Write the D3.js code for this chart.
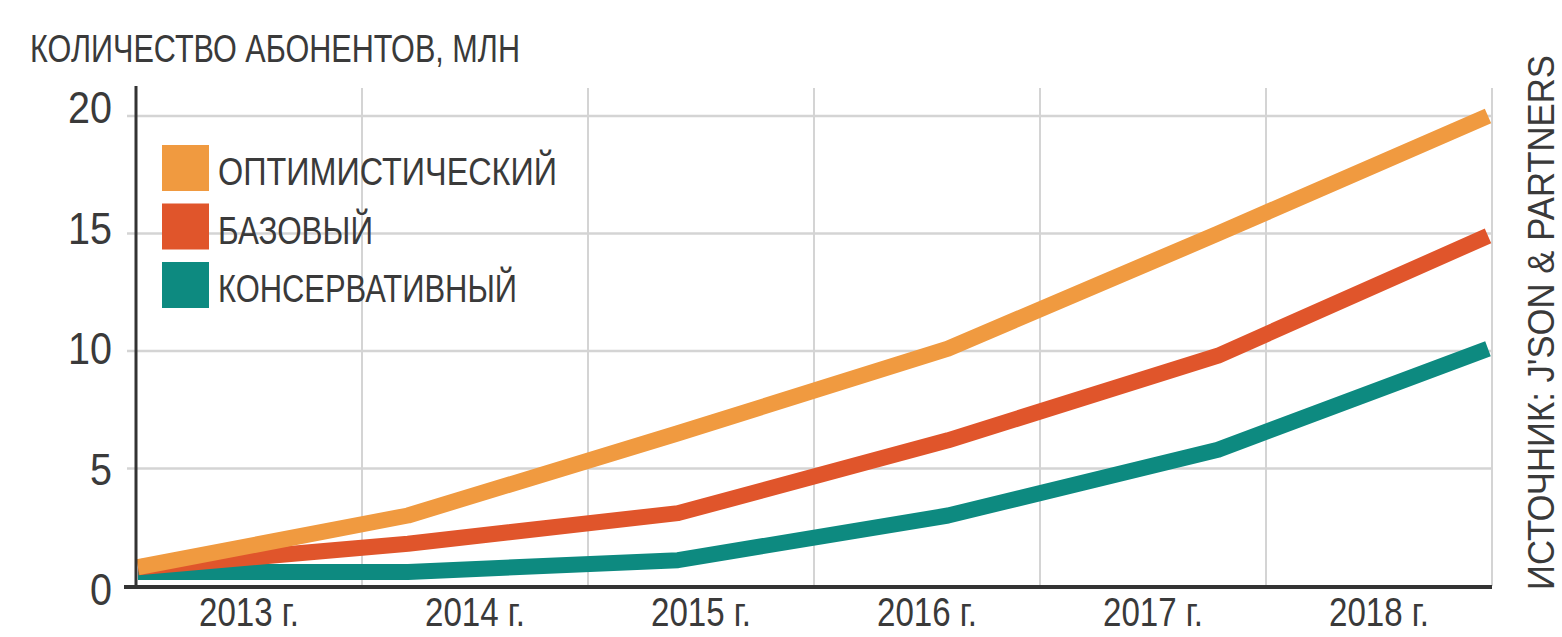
<!DOCTYPE html>
<html>
<head>
<meta charset="utf-8">
<script src="https://cdn.jsdelivr.net/npm/d3@7"></script>
<style>
  html, body { margin: 0; padding: 0; background: #fff; }
  svg { display: block; }
  text { font-family: "Liberation Sans Narrow", "Liberation Sans", Arial, sans-serif; fill: #3a3a3a; }
</style>
</head>
<body>
<script>
// ---- data ----
const years = ["2013 г.", "2014 г.", "2015 г.", "2016 г.", "2017 г.", "2018 г."];
const optimistic   = [0.8, 3.0, 6.5, 10.1, 15.0, 20.0];
const base         = [0.8, 1.8, 3.1, 6.2, 9.8, 14.9];
const conservative = [0.6, 0.6, 1.1, 3.0, 5.8, 10.1];
const yTicks = [0, 5, 10, 15, 20];
const seriesNames = ["ОПТИМИСТИЧЕСКИЙ", "БАЗОВЫЙ", "КОНСЕРВАТИВНЫЙ"];
const seriesColors = ["#F09A40", "#E0552B", "#0D8A80"];
const titleText = "КОЛИЧЕСТВО АБОНЕНТОВ, МЛН";
const sourceText = "ИСТОЧНИК: J'SON & PARTNERS";

(function () {
const W = 1562, H = 637;
const svg = d3.select("body").append("svg").attr("width", W).attr("height", H);

const pLeft = 136, pRight = 1492, pTop = 116, pBottom = 586;
const xBand = d3.scaleBand().domain(years).range([pLeft, pRight]).padding(0);
const xPt = d3.scalePoint().domain(d3.range(years.length)).range([pLeft + 2, pRight - 4]);
const y = d3.scaleLinear().domain([0, 20]).range([pBottom, pTop]);
const yLabel = d3.scaleLinear().domain([0, 20]).range([605, 123]);

// grid: horizontal
svg.append("g").selectAll("line").data(yTicks.filter(d => d > 0)).join("line")
  .attr("x1", pLeft - 9).attr("x2", pRight)
  .attr("y1", d => y(d)).attr("y2", d => y(d))
  .attr("stroke", "#d4d4d4").attr("stroke-width", 2.5);
// grid: vertical
const vlines = years.slice(1).map(d => xBand(d)).concat([pRight]);
svg.append("g").selectAll("line").data(vlines).join("line")
  .attr("x1", d => d).attr("x2", d => d)
  .attr("y1", 88).attr("y2", pBottom)
  .attr("stroke", "#d4d4d4").attr("stroke-width", 2);

// y axis labels
svg.append("g").selectAll("text").data(yTicks).join("text")
  .attr("x", 112).attr("y", d => yLabel(d))
  .attr("text-anchor", "end")
  .attr("font-size", 44)
  .attr("textLength", d => String(d).length * 22)
  .attr("lengthAdjust", "spacingAndGlyphs")
  .text(d => d);

// lines
const line = d3.line().x((d, i) => xPt(i)).y(d => y(d)).curve(d3.curveLinear);
const all = [optimistic, base, conservative];
svg.append("clipPath").attr("id", "clip").append("rect")
  .attr("x", pLeft).attr("y", 0).attr("width", pRight - pLeft).attr("height", pBottom - 1);
svg.append("g").attr("clip-path", "url(#clip)").selectAll("path").data(all.slice().reverse()).join("path")
  .attr("d", d => line(d))
  .attr("fill", "none")
  .attr("stroke", (d, i) => seriesColors[2 - i])
  .attr("stroke-width", 16)
  .attr("stroke-linejoin", "round")
  .attr("stroke-linecap", "butt");

// axes
svg.append("line").attr("x1", pLeft).attr("x2", pLeft).attr("y1", 86).attr("y2", pBottom)
  .attr("stroke", "#333").attr("stroke-width", 3);
svg.append("line").attr("x1", pLeft - 12).attr("x2", pRight).attr("y1", pBottom + 1).attr("y2", pBottom + 1)
  .attr("stroke", "#333").attr("stroke-width", 4);

// x labels
svg.append("g").selectAll("text").data(years).join("text")
  .attr("x", d => xBand(d) + xBand.bandwidth() / 2)
  .attr("y", 626)
  .attr("text-anchor", "middle")
  .attr("font-size", 40)
  .attr("textLength", 100)
  .attr("lengthAdjust", "spacingAndGlyphs")
  .text(d => d);

// title
svg.append("text").attr("x", 30).attr("y", 62)
  .attr("font-size", 39)
  .attr("textLength", 490).attr("lengthAdjust", "spacingAndGlyphs")
  .text(titleText);

// legend
const legW = [339, 155, 299];
const lg = svg.append("g").selectAll("g").data(seriesNames).join("g")
  .attr("transform", (d, i) => `translate(162, ${145 + i * 58.5})`);
lg.append("rect").attr("width", 47).attr("height", 46).attr("fill", (d, i) => seriesColors[i]);
lg.append("text").attr("x", 56).attr("y", 40)
  .attr("font-size", 39)
  .attr("textLength", (d, i) => legW[i]).attr("lengthAdjust", "spacingAndGlyphs")
  .text(d => d);

// source (rotated)
svg.append("text")
  .attr("transform", "translate(1554, 590) rotate(-90)")
  .attr("font-size", 37)
  .attr("font-family", "'Liberation Sans', Arial, sans-serif")
  .attr("textLength", 535).attr("lengthAdjust", "spacingAndGlyphs")
  .text(sourceText);
})();
</script>
</body>
</html>
